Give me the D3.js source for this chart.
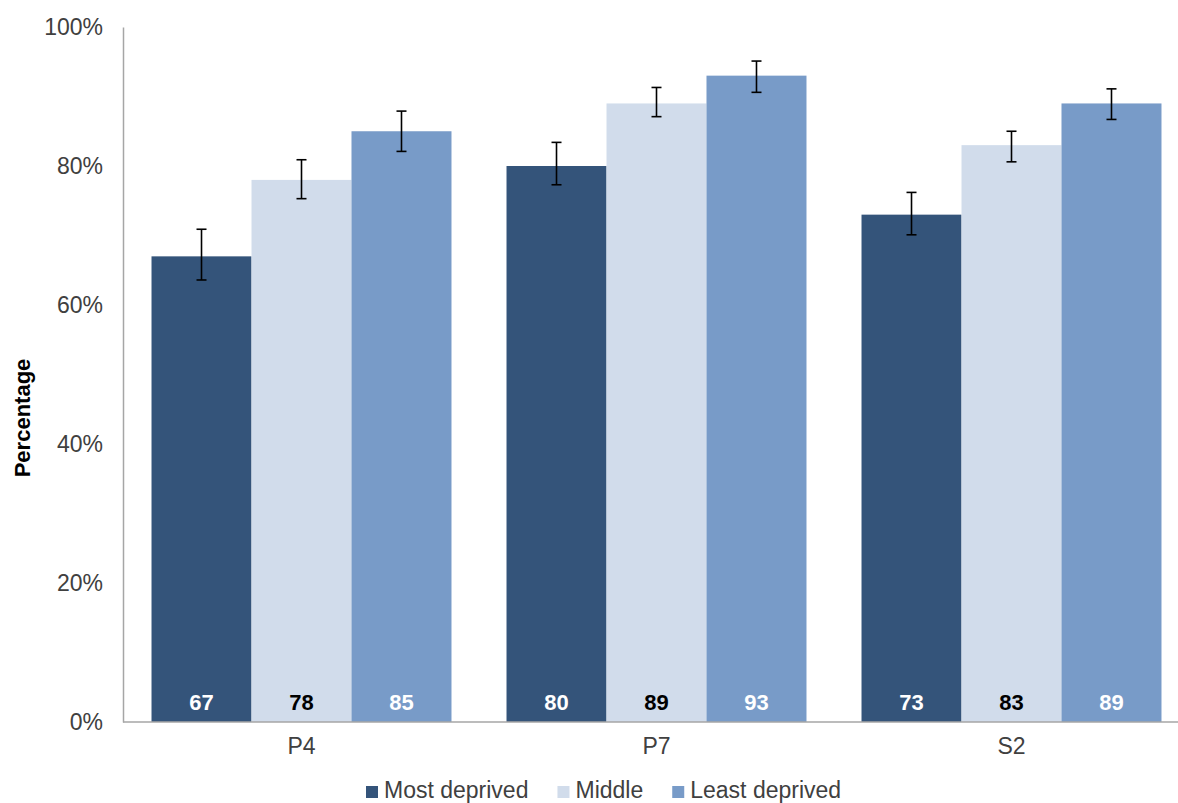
<!DOCTYPE html>
<html>
<head>
<meta charset="utf-8">
<script src="https://cdn.jsdelivr.net/npm/d3@7"></script>
<style>
  html, body { margin: 0; padding: 0; background: #fff; }
  svg { display: block; font-family: "Liberation Sans", Arial, sans-serif; }
</style>
</head>
<body>
<svg id="chart" width="1178" height="803"></svg>
<script>
const categories = ["P4", "P7", "S2"];
const seriesNames = ["Most deprived", "Middle", "Least deprived"];
const mostDeprived = [67, 80, 73];
const middle = [78, 89, 83];
const leastDeprived = [85, 93, 89];
const mostDeprivedLow = [63.6, 77.3, 70.1];
const mostDeprivedHigh = [70.9, 83.4, 76.2];
const middleLow = [75.3, 87.1, 80.6];
const middleHigh = [80.9, 91.3, 85.0];
const leastDeprivedLow = [82.1, 90.6, 86.7];
const leastDeprivedHigh = [87.9, 95.1, 91.1];
const yTicks = [0, 20, 40, 60, 80, 100];
const colors = ["#34547a", "#d1dceb", "#789bc8"];
const labelColors = ["#ffffff", "#000000", "#ffffff"];

const values = [mostDeprived, middle, leastDeprived];
const lows = [mostDeprivedLow, middleLow, leastDeprivedLow];
const highs = [mostDeprivedHigh, middleHigh, leastDeprivedHigh];

const rows = [];
categories.forEach((c, ci) => {
  seriesNames.forEach((s, si) => {
    rows.push({cat: c, series: s, si: si, value: values[si][ci], low: lows[si][ci], high: highs[si][ci]});
  });
});

const svg = d3.select("#chart");
const axisX = 123;
const y = d3.scaleLinear().domain([0, 100]).range([722, 27]);
const x0 = d3.scaleBand().domain(categories).range([124, 124 + 3 * 355]).paddingInner(0.155).paddingOuter(0.0775);
const x1 = d3.scaleBand().domain(seriesNames).range([0, x0.bandwidth()]).padding(0);

const g = svg.append("g");

// bars
g.selectAll("rect.bar").data(rows).enter().append("rect")
  .attr("class", "bar")
  .attr("x", d => x0(d.cat) + x1(d.series))
  .attr("y", d => y(d.value))
  .attr("width", x1.bandwidth())
  .attr("height", d => y(0) - y(d.value))
  .attr("fill", d => colors[d.si]);

// error bars
const eb = g.selectAll("g.err").data(rows).enter().append("g").attr("class", "err")
  .attr("stroke", "#000").attr("stroke-width", 1.6);
eb.append("line")
  .attr("x1", d => x0(d.cat) + x1(d.series) + x1.bandwidth() / 2)
  .attr("x2", d => x0(d.cat) + x1(d.series) + x1.bandwidth() / 2)
  .attr("y1", d => y(d.low)).attr("y2", d => y(d.high));
eb.append("line")
  .attr("x1", d => x0(d.cat) + x1(d.series) + x1.bandwidth() / 2 - 5)
  .attr("x2", d => x0(d.cat) + x1(d.series) + x1.bandwidth() / 2 + 5)
  .attr("y1", d => y(d.high)).attr("y2", d => y(d.high));
eb.append("line")
  .attr("x1", d => x0(d.cat) + x1(d.series) + x1.bandwidth() / 2 - 5)
  .attr("x2", d => x0(d.cat) + x1(d.series) + x1.bandwidth() / 2 + 5)
  .attr("y1", d => y(d.low)).attr("y2", d => y(d.low));

// value labels
g.selectAll("text.val").data(rows).enter().append("text")
  .attr("class", "val")
  .attr("x", d => x0(d.cat) + x1(d.series) + x1.bandwidth() / 2)
  .attr("y", 702)
  .attr("dy", "0.35em")
  .attr("text-anchor", "middle")
  .attr("font-size", 22)
  .attr("font-weight", "bold")
  .attr("fill", d => labelColors[d.si])
  .text(d => d3.format("d")(d.value));

// y axis
const yAxis = d3.axisLeft(y).tickValues(yTicks).tickSize(0).tickPadding(20).tickFormat(d => d + "%");
const yg = svg.append("g").attr("transform", `translate(${axisX},0)`).call(yAxis);
yg.select(".domain").attr("stroke", "#a6a6a6").attr("stroke-width", 1.5);
yg.selectAll("text").attr("font-size", 23).attr("fill", "#404040")
  .attr("font-family", "Liberation Sans, Arial, sans-serif");

// x axis
const xAxis = d3.axisBottom(x0).tickSize(0).tickPadding(16);
const xg = svg.append("g").attr("transform", `translate(0,${y(0)})`).call(xAxis);
xg.select(".domain").attr("d", `M${axisX},0H1178`).attr("stroke", "#a6a6a6").attr("stroke-width", 1.5);
xg.selectAll("text").attr("font-size", 23).attr("fill", "#404040")
  .attr("font-family", "Liberation Sans, Arial, sans-serif");

// y axis title
svg.append("text")
  .attr("transform", "translate(22,418) rotate(-90)")
  .attr("text-anchor", "middle")
  .attr("dy", "0.35em")
  .attr("font-size", 22)
  .attr("font-weight", "bold")
  .attr("fill", "#000")
  .text("Percentage");

// legend
const legend = svg.append("g");
let lx = 366;
seriesNames.forEach((s, i) => {
  legend.append("rect").attr("x", lx).attr("y", 786).attr("width", 12).attr("height", 12).attr("fill", colors[i]);
  const t = legend.append("text").attr("x", lx + 18).attr("y", 798)
    .attr("font-size", 23).attr("fill", "#404040").text(s);
  lx = lx + 18 + t.node().getComputedTextLength() + 29;
});
</script>
</body>
</html>
